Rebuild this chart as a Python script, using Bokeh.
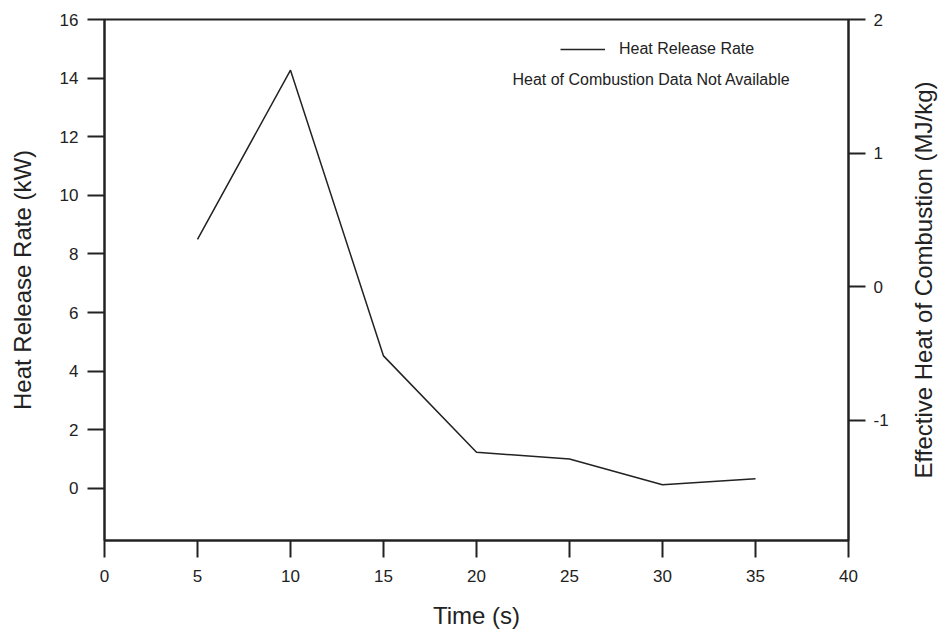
import math
from bokeh.plotting import figure
from bokeh.layouts import row
from bokeh.models import (Range1d, LinearAxis, FixedTicker, Legend, LegendItem, Label)
from bokeh.embed import file_html
from bokeh.resources import INLINE

# ---- data ----
time_s = [5, 10, 15, 20, 25, 30, 35]
hrr_kw = [8.5, 14.27, 4.52, 1.23, 1.0, 0.12, 0.33]

x_ticks = [0, 5, 10, 15, 20, 25, 30, 35, 40]
y_ticks = [0, 2, 4, 6, 8, 10, 12, 14, 16]
y2_ticks = [-1, 0, 1, 2]
y2_tick_labels = {-1: "-1", 0: "0", 1: "1", 2: "2"}

series_label = "Heat Release Rate"
note_label = "Heat of Combustion Data Not Available"
x_title = "Time (s)"
y_title = "Heat Release Rate (kW)"
y2_title = "Effective Heat of Combustion (MJ/kg)"

FONT = "Liberation Sans"
INK = "#222222"
TOTAL_H = 636
TICK_FS = "17px"
TITLE_FS = "24px"
NOTE_FS = "16px"

p = figure(width=908, height=TOTAL_H, output_backend="svg", toolbar_location=None,
           x_range=Range1d(0, 40), y_range=Range1d(-1.78, 16.0),
           min_border_left=104, min_border_right=60, min_border_top=19, min_border_bottom=96,
           x_axis_location=None, y_axis_location=None)
p.grid.visible = False
p.outline_line_color = INK
p.outline_line_width = 2
p.background_fill_color = "white"
p.border_fill_color = "white"
p.extra_y_ranges = {"hoc": Range1d(-1.9, 2.0)}

def style(ax, ticks, std, lstd):
    ax.ticker = FixedTicker(ticks=ticks)
    ax.axis_line_color = INK
    ax.axis_line_width = 2
    ax.major_tick_line_color = INK
    ax.major_tick_line_width = 2
    ax.major_tick_out = 17
    ax.major_tick_in = 0
    ax.minor_tick_line_color = None
    ax.major_label_standoff = std
    ax.axis_label_standoff = lstd
    ax.major_label_text_font = FONT
    ax.major_label_text_font_size = TICK_FS
    ax.major_label_text_color = INK
    ax.axis_label_text_font = FONT
    ax.axis_label_text_font_size = TITLE_FS
    ax.axis_label_text_font_style = "normal"
    ax.axis_label_text_color = INK

xa = LinearAxis(axis_label=x_title)
style(xa, x_ticks, 12, 17)
p.add_layout(xa, "below")

ya = LinearAxis(axis_label=y_title)
style(ya, y_ticks, 9, 21)
p.add_layout(ya, "left")

y2 = LinearAxis(y_range_name="hoc")
style(y2, y2_ticks, 8, 28)
y2.major_label_overrides = y2_tick_labels
p.add_layout(y2, "right")

r = p.line(time_s, hrr_kw, line_color=INK, line_width=1.5)

legend = Legend(items=[LegendItem(label=series_label, renderers=[r])],
                location=(456, 481), padding=0, margin=0, spacing=0,
                glyph_width=45, glyph_height=20, label_height=20, label_standoff=14,
                label_text_font=FONT, label_text_font_size=NOTE_FS, label_text_color=INK,
                border_line_color=None, background_fill_alpha=0)
p.add_layout(legend, "center")

note = Label(x=686, y=461, x_units="screen", y_units="screen", text=note_label,
             text_align="right", text_baseline="middle", text_font=FONT,
             text_font_size=NOTE_FS, text_color=INK)
p.add_layout(note)

# narrow strip holding the right-axis title, reading bottom-to-top
p2 = figure(width=30, height=TOTAL_H, output_backend="svg", toolbar_location=None,
            x_range=Range1d(0, 1), y_range=Range1d(0, 1),
            min_border_left=0, min_border_right=0, min_border_top=19, min_border_bottom=96,
            x_axis_location=None, y_axis_location=None)
p2.grid.visible = False
p2.outline_line_color = None
p2.background_fill_color = "white"
p2.border_fill_color = "white"
p2.add_layout(Label(x=0.5, y=0.5, text=y2_title, angle=math.pi / 2,
                    text_align="center", text_baseline="middle", text_font=FONT,
                    text_font_size=TITLE_FS, text_color=INK))

layout = row(p, p2, spacing=0)
open("out.html", "w").write(file_html(layout, INLINE))
